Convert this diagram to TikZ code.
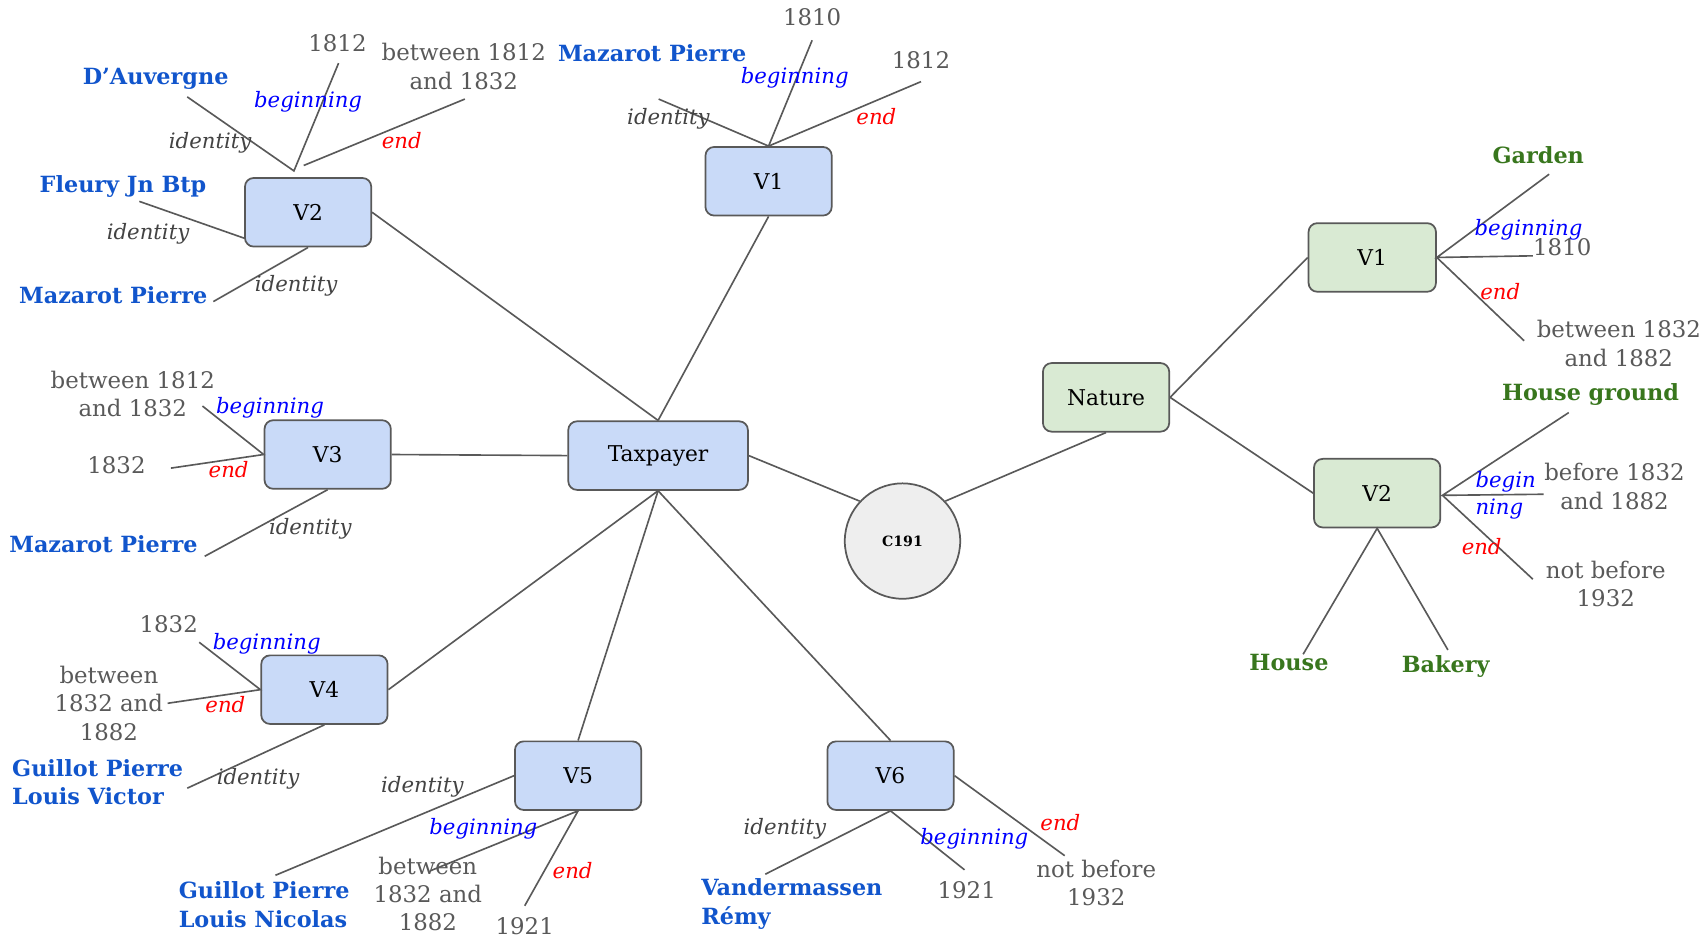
\documentclass[tikz,border=0pt]{standalone}
\usepackage{fontspec}
\setmainfont{DejaVu Serif}
\definecolor{linec}{HTML}{595959}
\definecolor{boxblue}{HTML}{C9DAF8}
\definecolor{boxgreen}{HTML}{D9EAD3}
\definecolor{circfill}{HTML}{EEEEEE}
\definecolor{valgray}{HTML}{595959}
\definecolor{idgray}{HTML}{434343}
\definecolor{whoblue}{HTML}{1155CC}
\definecolor{whatgreen}{HTML}{38761D}
\definecolor{begblue}{HTML}{0000FF}
\definecolor{finred}{HTML}{FF0000}
\begin{document}
\begin{tikzpicture}[x=1pt,y=-1pt,
  box/.style={draw=linec, line width=1.6pt, rounded corners=8pt, minimum width=116pt, minimum height=63pt, inner sep=0pt, text=black, font=\fontsize{20}{22}\selectfont},
  bluebox/.style={box, fill=boxblue},
  greenbox/.style={box, fill=boxgreen},
  conn/.style={draw=linec, line width=1.5pt},
  val/.style={text=valgray, font=\fontsize{21}{26}\selectfont, align=center, inner sep=0pt},
  who/.style={text=whoblue, font=\bfseries\fontsize{20.5}{26.5}\selectfont, align=left, inner sep=0pt},
  what/.style={text=whatgreen, font=\bfseries\fontsize{20.5}{26}\selectfont, align=center, inner sep=0pt},
  beg/.style={text=begblue, font=\itshape\fontsize{19.5}{24.5}\selectfont, align=left, inner sep=0pt, yshift=-2.5pt},
  fin/.style={text=finred, font=\itshape\fontsize{19.5}{24}\selectfont, inner sep=0pt},
  idl/.style={text=idgray, font=\itshape\fontsize{19.5}{24}\selectfont, inner sep=0pt, yshift=-2.5pt}]
\useasboundingbox (0,0) rectangle (1568,861);
% main nodes
\node[bluebox, minimum width=165pt] (tax) at (604.5,418.5) {Taxpayer};
\node[bluebox] (v1) at (706,166.5) {V1};
\node[bluebox] (v2) at (283,195) {V2};
\node[bluebox] (v3) at (301,417.5) {V3};
\node[bluebox] (v4) at (298,633.5) {V4};
\node[bluebox] (v5) at (531,712.5) {V5};
\node[bluebox] (v6) at (818,712.5) {V6};
\node[circle, draw=linec, line width=1.6pt, fill=circfill, minimum size=106pt, inner sep=0pt, font=\bfseries\fontsize{13}{15}\selectfont] (c) at (829,497) {C191};
\node[greenbox] (nat) at (1016,365) {Nature};
\node[greenbox, minimum width=117pt] (rv1) at (1260.5,236.5) {V1};
\node[greenbox] (rv2) at (1265,453) {V2};
% free ends
\coordinate (cv2a) at (270,157);
\coordinate (cv2b) at (279,152);
\coordinate (edauv) at (172,89);
\coordinate (e1812a) at (311,58);
\coordinate (ebtw2) at (427,91);
\coordinate (efleury) at (128,185);
\coordinate (emaz2) at (196,277);
\coordinate (emaz1) at (605,91);
\coordinate (e1810) at (746,37);
\coordinate (e1812b) at (846,75);
\coordinate (ebtw3) at (186,373);
\coordinate (e1832a) at (157,430);
\coordinate (emaz3) at (188,511);
\coordinate (e1832b) at (183,590);
\coordinate (ebtw4) at (154,646);
\coordinate (egpv) at (172,724);
\coordinate (egpn) at (253,804);
\coordinate (ebtw5) at (395,800);
\coordinate (e1921a) at (482,832);
\coordinate (evdm) at (703,803);
\coordinate (e1921b) at (886,799);
\coordinate (enb6) at (978,786);
\coordinate (egarden) at (1423,160);
\coordinate (e1810r) at (1408,235);
\coordinate (ebtwr) at (1400,313);
\coordinate (crv2) at (1325,455);
\coordinate (ehg) at (1441,379);
\coordinate (ebef) at (1418,454);
\coordinate (enbr) at (1408,532);
\coordinate (ehouse) at (1197,601);
\coordinate (ebakery) at (1330,597);
% main connectors
\draw[conn] (tax.north) -- (v2.east);
\draw[conn] (tax.north) -- (v1.south);
\draw[conn] (v3.east) -- (tax.west);
\draw[conn] (v4.east) -- (tax.south);
\draw[conn] (tax.south) -- (v5.north);
\draw[conn] (tax.south) -- (v6.north);
\draw[conn] (tax.east) -- (c.137);
\draw[conn] (c.43) -- (nat.south);
\draw[conn] (nat.east) -- (rv1.west);
\draw[conn] (nat.east) -- (rv2.west);
% V2 (left)
\draw[conn] (edauv) -- (cv2a) -- (e1812a);
\draw[conn] (cv2b) -- (ebtw2);
\draw[conn] (efleury) -- (v2.202);
\draw[conn] (emaz2) -- (v2.south);
% V1 (top)
\draw[conn] (emaz1) -- (v1.north) -- (e1810);
\draw[conn] (v1.north) -- (e1812b);
% V3
\draw[conn] (ebtw3) -- (v3.west) -- (e1832a);
\draw[conn] (emaz3) -- (v3.south);
% V4
\draw[conn] (e1832b) -- (v4.west) -- (ebtw4);
\draw[conn] (egpv) -- (v4.south);
% V5
\draw[conn] (egpn) -- (v5.west);
\draw[conn] (ebtw5) -- (v5.south) -- (e1921a);
% V6
\draw[conn] (evdm) -- (v6.south) -- (e1921b);
\draw[conn] (v6.east) -- (enb6);
% right V1
\draw[conn] (egarden) -- (rv1.east) -- (e1810r);
\draw[conn] (rv1.east) -- (ebtwr);
% right V2
\draw[conn] (ehg) -- (crv2) -- (ebef);
\draw[conn] (crv2) -- (enbr);
\draw[conn] (ehouse) -- (rv2.south) -- (ebakery);
% labels V2
\node[who] (tdauv) at (143,72) {D’Auvergne};
\node[val] (t1812a) at (310,40) {1812};
\node[val] (tbtw2) at (426,61) {between 1812\\and 1832};
\node[beg] (lb2) at (283,91) {beginning};
\node[idl] (li2a) at (193,129) {identity};
\node[fin] (le2) at (369,129) {end};
\node[who] (tfleury) at (113,171) {Fleury Jn Btp};
\node[idl] (li2b) at (136,212) {identity};
\node[who] (tmaz2) at (104,271) {Mazarot Pierre};
\node[idl] (li2c) at (272,260) {identity};
% labels V1
\node[who] (tmaz1) at (599,49) {Mazarot Pierre};
\node[val] (t1810) at (746,16) {1810};
\node[val] (t1812b) at (846,55) {1812};
\node[beg] (lb1) at (730,69) {beginning};
\node[idl] (li1) at (614,107) {identity};
\node[fin] (le1) at (805,107) {end};
% labels V3
\node[val] (tbtw3) at (122,362) {between 1812\\and 1832};
\node[val] (t1832a) at (107,427) {1832};
\node[beg] (lb3) at (248,372) {beginning};
\node[fin] (le3) at (210,431) {end};
\node[who] (tmaz3) at (95,500) {Mazarot Pierre};
\node[idl] (li3) at (285,483) {identity};
% labels V4
\node[val] (t1832b) at (155,573) {1832};
\node[val] (tbtw4) at (100,646) {between\\1832 and\\1882};
\node[beg] (lb4) at (245,589) {beginning};
\node[fin] (le4) at (207,647) {end};
\node[who, anchor=west] (tgpv) at (11,718.5) {Guillot Pierre\\Louis Victor};
\node[idl] (li4) at (237,713) {identity};
% labels V5
\node[idl] (li5) at (388,720) {identity};
\node[beg] (lb5) at (444,759) {beginning};
\node[fin] (le5) at (526,800) {end};
\node[who, anchor=west] (tgpn) at (164,831) {Guillot Pierre\\Louis Nicolas};
\node[val] (tbtw5) at (393,821) {between\\1832 and\\1882};
\node[val] (t1921a) at (482,851) {1921};
% labels V6
\node[idl] (li6) at (721,759) {identity};
\node[beg] (lb6) at (895,768) {beginning};
\node[fin] (le6) at (974,756) {end};
\node[who, anchor=west] (tvdm) at (644,830.5) {Vandermassen\\Rémy};
\node[val] (t1921b) at (888,818) {1921};
\node[val] (tnb6) at (1007,811) {not before\\1932};
% labels right V1
\node[what] (tgarden) at (1413,143) {Garden};
\node[beg] (lbr1) at (1404,209) {beginning};
\node[val] (t1810r) at (1435,227) {1810};
\node[fin] (ler1) at (1378,268) {end};
\node[val] (tbtwr) at (1487,315.5) {between 1832\\and 1882};
% labels right V2
\node[what] (thg) at (1461,362) {House ground};
\node[beg] (lbr2) at (1383,452.5) {begin\\ning};
\node[val] (tbef) at (1483,447) {before 1832\\and 1882};
\node[fin] (ler2) at (1361,502) {end};
\node[val] (tnbr) at (1475,536.5) {not before\\1932};
\node[what] (thouse) at (1184,609) {House};
\node[what] (tbakery) at (1328,612) {Bakery};
\end{tikzpicture}
\end{document}
